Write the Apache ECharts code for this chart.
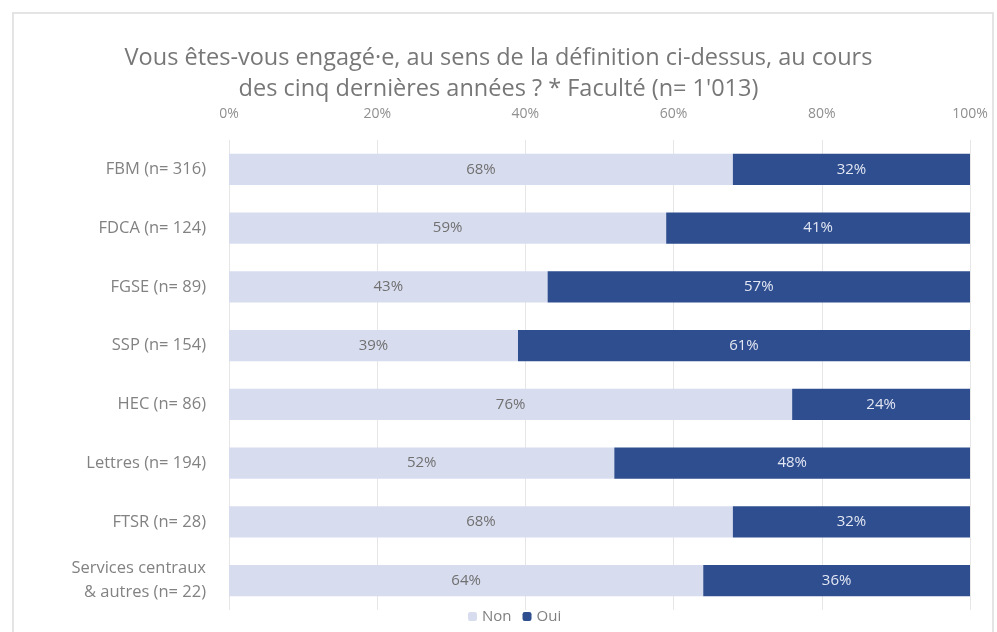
<!DOCTYPE html>
<html>
<head>
<meta charset="utf-8">
<script src="https://cdn.jsdelivr.net/npm/echarts@6/dist/echarts.min.js"></script>
<style>
  html, body { margin: 0; padding: 0; background: #fff; }
  #chart { width: 997px; height: 632px; }
</style>
</head>
<body>
<div id="chart"></div>
<script>
// facultés (ordre du haut vers le bas)
var categories = ['FBM (n= 316)', 'FDCA (n= 124)', 'FGSE (n= 89)', 'SSP (n= 154)',
    'HEC (n= 86)', 'Lettres (n= 194)', 'FTSR (n= 28)', 'Services centraux\n& autres (n= 22)'];
var nonValues = [68, 59, 43, 39, 76, 52, 68, 64];
var ouiValues = [32, 41, 57, 61, 24, 48, 32, 36];
var axisTicks = [0, 20, 40, 60, 80, 100];

var font = "'Open Sans', 'DejaVu Sans', sans-serif";
var chart = echarts.init(document.getElementById('chart'));

var option = {
    backgroundColor: '#fff',
    textStyle: { fontFamily: font },
    title: {
        text: 'Vous êtes-vous engagé·e, au sens de la définition ci-dessus, au cours\ndes cinq dernières années ? * Faculté (n= 1\'013)',
        left: 'center',
        top: 38,
        textStyle: { fontSize: 23.5, fontWeight: 'normal', color: '#777777', lineHeight: 31, fontFamily: font }
    },
    graphic: [{
        type: 'rect',
        shape: { x: 13, y: 13, width: 980, height: 640 },
        style: { fill: 'none', stroke: '#e4e4e4', lineWidth: 2 },
        silent: true
    }],
    legend: {
        data: ['Non', 'Oui'],
        bottom: 3,
        left: 463,
        itemWidth: 9,
        itemHeight: 9,
        itemGap: 11,
        textStyle: { color: '#808080', fontSize: 15 }
    },
    grid: { left: 229, right: 27, top: 140, bottom: 22 },
    xAxis: {
        type: 'value',
        position: 'top',
        min: axisTicks[0],
        max: axisTicks[axisTicks.length - 1],
        interval: 20,
        axisLine: { show: false },
        axisTick: { show: false },
        axisLabel: { color: '#8f8f8f', fontSize: 14, margin: 19, formatter: '{value}%' },
        splitLine: { lineStyle: { color: '#e6e6e6' } }
    },
    yAxis: {
        type: 'category',
        data: categories,
        inverse: true,
        axisLine: { show: false },
        axisTick: { show: false },
        axisLabel: { color: '#828282', fontSize: 16.5, margin: 23, lineHeight: 24, align: 'right' }
    },
    series: [
        {
            name: 'Non',
            type: 'bar',
            stack: 'total',
            barWidth: '53%',
            data: nonValues,
            itemStyle: { color: '#d8dcef' },
            label: { show: true, position: 'inside', color: '#707070', fontSize: 15, formatter: '{c}%' }
        },
        {
            name: 'Oui',
            type: 'bar',
            stack: 'total',
            data: ouiValues,
            itemStyle: { color: '#2e4e8f' },
            label: { show: true, position: 'inside', color: '#e3e7f3', fontSize: 15, formatter: '{c}%' }
        }
    ]
};

chart.setOption(option);
</script>
</body>
</html>
